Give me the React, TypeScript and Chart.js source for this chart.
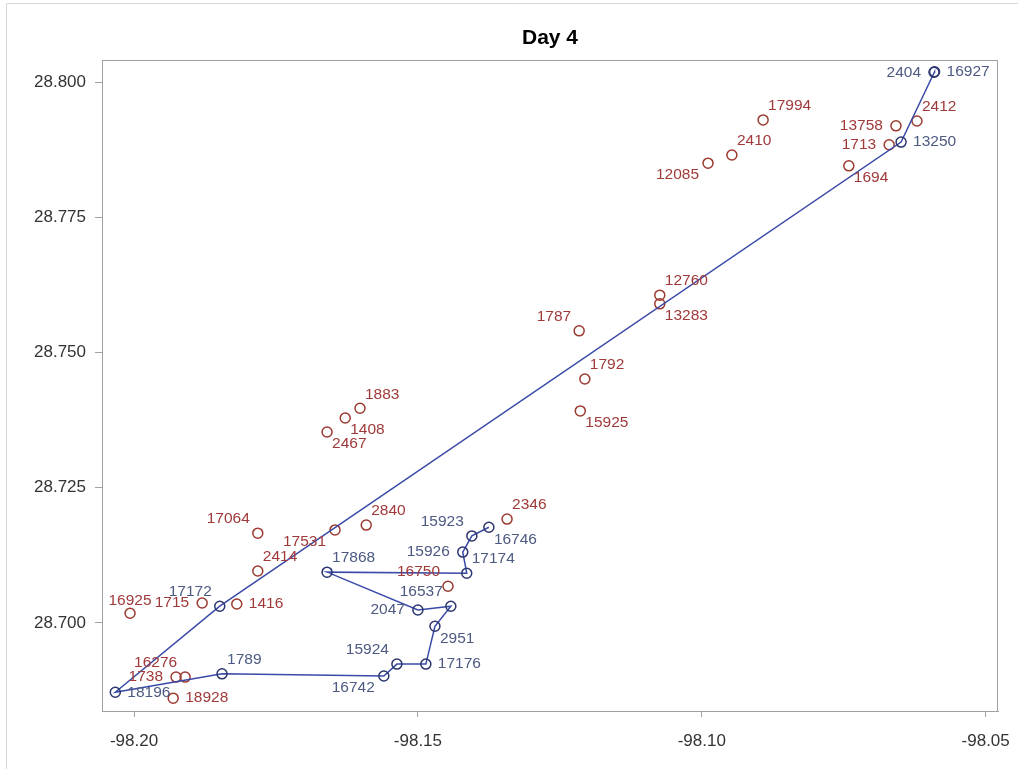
import React, { useEffect, useRef } from "react";
import { Chart, registerables } from "chart.js";

Chart.register(...registerables);

// Connected track (ids in travel order) with longitude / latitude
const trackIds = ["2404", "16927", "13250", "17172", "18196", "1789", "16742", "15924", "17176", "2951", "16537", "2047", "17868", "17174", "15926", "15923", "16746"];
const trackLon = [-98.0591, -98.059, -98.0649, -98.1849, -98.2033, -98.1845, -98.156, -98.1537, -98.1486, -98.147, -98.1442, -98.15, -98.166, -98.1414, -98.1421, -98.1405, -98.1375];
const trackLat = [28.8018, 28.8019, 28.7889, 28.7031, 28.6872, 28.6906, 28.6902, 28.6924, 28.6924, 28.6994, 28.7031, 28.7024, 28.7094, 28.7092, 28.7131, 28.7161, 28.7177];
const trackLabelPos = ["l", "r", "r", "ul", "r", "ur", "dl", "ul", "r", "dr", "ul", "l", "ur", "ur", "l", "ul", "dr"];

// Unconnected locations
const otherIds = ["17994", "2410", "12085", "13758", "2412", "1713", "1694", "12760", "13283", "1787", "1792", "15925", "1883", "1408", "2467", "2346", "16750", "2840", "17064", "17531", "2414", "16925", "1715", "1416", "1738", "16276", "18928"];
const otherLon = [-98.0892, -98.0947, -98.0989, -98.0658, -98.0621, -98.067, -98.0741, -98.1074, -98.1074, -98.1216, -98.1206, -98.1214, -98.1602, -98.1628, -98.166, -98.1343, -98.1447, -98.1591, -98.1782, -98.1646, -98.1782, -98.2007, -98.188, -98.1819, -98.1926, -98.191, -98.1931];
const otherLat = [28.793, 28.7865, 28.785, 28.7919, 28.7928, 28.7884, 28.7845, 28.7606, 28.759, 28.754, 28.7451, 28.7392, 28.7397, 28.7379, 28.7353, 28.7192, 28.7068, 28.7181, 28.7166, 28.7172, 28.7096, 28.7018, 28.7037, 28.7035, 28.69, 28.69, 28.6861];
const otherLabelPos = ["ur", "ur", "dl", "l", "ur", "l", "dr", "ur", "dr", "ul", "ur", "dr", "ur", "dr", "dr", "ur", "ul", "ur", "ul", "dl", "ur", "u", "l", "r", "l", "ul", "r"];

// Axis ticks
const xTicks = [-98.2, -98.15, -98.1, -98.05];
const yTicks = [28.7, 28.725, 28.75, 28.775, 28.8];

const FONT = "'Liberation Sans', Arial, sans-serif";

const toPoints = (lon: number[], lat: number[]) => lon.map((x, i) => ({ x, y: lat[i] }));

const frame = {
  id: "frame",
  beforeDraw(chart: any) {
    const ctx = chart.ctx;
    ctx.save();
    ctx.fillStyle = "#ffffff";
    ctx.fillRect(0, 0, chart.width, chart.height);
    ctx.strokeStyle = "#d6d6d6";
    ctx.lineWidth = 1;
    ctx.beginPath();
    ctx.moveTo(6.5, chart.height);
    ctx.lineTo(6.5, 3.5);
    ctx.lineTo(chart.width, 3.5);
    ctx.stroke();
    ctx.restore();
  },
  afterDraw(chart: any) {
    const { ctx, chartArea: a } = chart;
    ctx.save();
    ctx.strokeStyle = "#a0a0a0";
    ctx.lineWidth = 1;
    ctx.strokeRect(a.left + 0.5, a.top + 0.5, a.right - a.left - 1, a.bottom - a.top);
    ctx.fillStyle = "#000";
    ctx.font = `bold 21px ${FONT}`;
    ctx.textAlign = "center";
    ctx.textBaseline = "middle";
    ctx.fillText("Day 4", (a.left + a.right) / 2, 38);
    ctx.restore();
  },
};

const pointLabels = {
  id: "pointLabels",
  afterDatasetsDraw(chart: any) {
    const ctx = chart.ctx;
    chart.data.datasets.forEach((ds: any, di: number) => {
      const meta = chart.getDatasetMeta(di);
      ctx.save();
      ctx.font = `15.5px ${FONT}`;
      ctx.fillStyle = ds.labelColor;
      ctx.textBaseline = "middle";
      meta.data.forEach((el: any, i: number) => {
        const text = ds.ids[i];
        const p = ds.labelPos[i];
        let x = el.x;
        let y = el.y;
        let align: CanvasTextAlign = "left";
        if (p === "r") { x += 12; }
        else if (p === "l") { x -= 13; align = "right"; }
        else if (p === "ur") { x += 5; y -= 14; }
        else if (p === "ul") { x -= 8; y -= 14; align = "right"; }
        else if (p === "dr") { x += 5; y += 12; }
        else if (p === "dl") { x -= 9; y += 12; align = "right"; }
        else if (p === "u") { y -= 13; align = "center"; }
        ctx.textAlign = align;
        ctx.fillText(text, x, y);
      });
      ctx.restore();
    });
  },
};

export default function App() {
  const ref = useRef<HTMLCanvasElement | null>(null);

  useEffect(() => {
    if (!ref.current) return;
    const chart = new Chart(ref.current, {
      type: "scatter",
      data: {
        datasets: [
          {
            type: "line",
            data: toPoints(trackLon, trackLat),
            ids: trackIds,
            labelPos: trackLabelPos,
            labelColor: "#4d5a82",
            showLine: true,
            borderColor: "#3a4aa8",
            borderWidth: 1.5,
            pointStyle: "circle",
            pointRadius: 5,
            pointBorderWidth: 1.5,
            pointBorderColor: "#2c366e",
            pointBackgroundColor: "rgba(0,0,0,0)",
            fill: false,
            tension: 0,
          } as any,
          {
            type: "scatter",
            data: toPoints(otherLon, otherLat),
            ids: otherIds,
            labelPos: otherLabelPos,
            labelColor: "#a03a3a",
            showLine: false,
            pointStyle: "circle",
            pointRadius: 5,
            pointBorderWidth: 1.5,
            pointBorderColor: "#9c3a30",
            pointBackgroundColor: "rgba(0,0,0,0)",
          } as any,
        ],
      },
      options: {
        animation: false,
        responsive: false,
        layout: { padding: { top: 60, right: 20, left: 0, bottom: 0 } },
        plugins: {
          legend: { display: false },
          tooltip: { enabled: false },
          title: { display: false },
        },
        scales: {
          x: {
            type: "linear",
            min: -98.20564,
            max: -98.04783,
            afterFit: (s: any) => { s.height = 58; s.paddingLeft = 0; s.paddingRight = 0; },
            afterBuildTicks: (s: any) => { s.ticks = xTicks.map((v) => ({ value: v })); },
            ticks: {
              callback: (v: any) => Number(v).toFixed(2),
              font: { family: FONT, size: 17 },
              color: "#333333",
              padding: 14,
              maxRotation: 0,
            },
            grid: { drawOnChartArea: false, drawTicks: true, tickLength: 6, color: "#a0a0a0" },
            border: { display: true, color: "#a0a0a0" },
          },
          y: {
            type: "linear",
            min: 28.68373,
            max: 28.80407,
            afterFit: (s: any) => { s.width = 102; s.paddingTop = 0; s.paddingBottom = 0; },
            afterBuildTicks: (s: any) => { s.ticks = yTicks.map((v) => ({ value: v })); },
            ticks: {
              callback: (v: any) => Number(v).toFixed(3),
              font: { family: FONT, size: 17 },
              color: "#333333",
              padding: 9,
            },
            grid: { drawOnChartArea: false, drawTicks: true, tickLength: 7, color: "#a0a0a0" },
            border: { display: true, color: "#a0a0a0" },
          },
        },
      } as any,
      plugins: [frame, pointLabels],
    });
    return () => chart.destroy();
  }, []);

  return (
    <div style={{ position: "absolute", left: 0, top: 0, width: 1018, height: 769, background: "#fff" }}>
      <canvas ref={ref} width={1018} height={769} style={{ display: "block" }} />
    </div>
  );
}
